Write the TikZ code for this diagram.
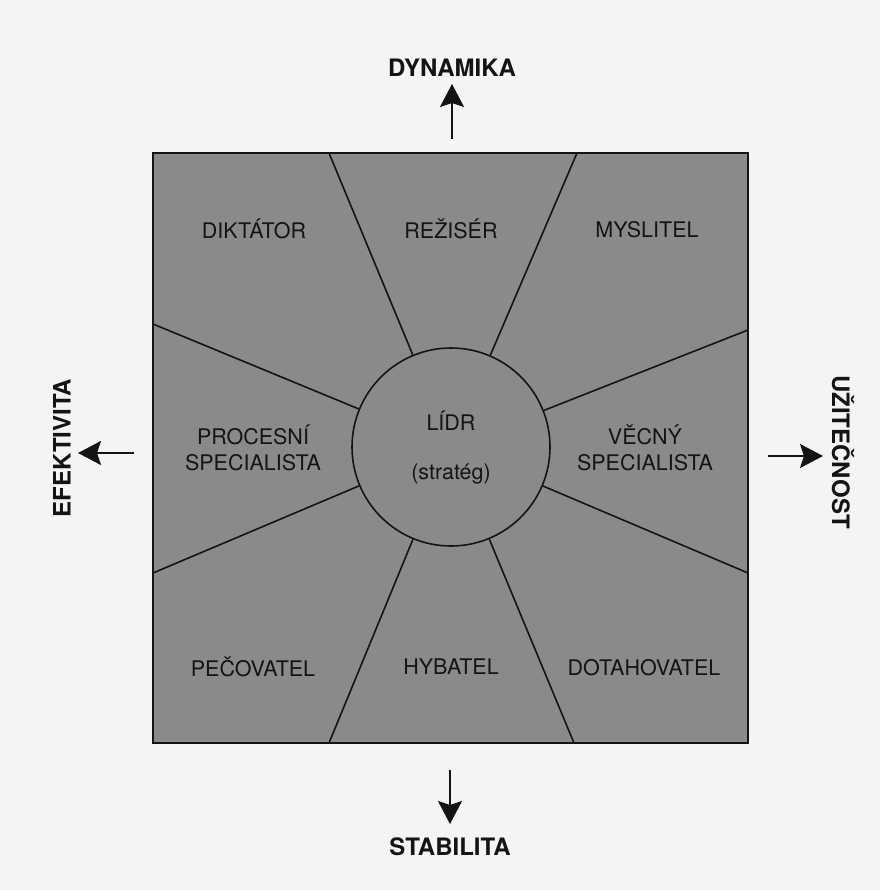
\documentclass[tikz,border=0pt]{standalone}
\usepackage{fontspec}
\setmainfont{TeX Gyre Heros}
\usetikzlibrary{arrows.meta}
\definecolor{paper}{RGB}{244,244,242}
\definecolor{panel}{RGB}{138,138,138}
\definecolor{ink}{RGB}{20,20,20}
\tikzset{
  role/.style={font=\fontsize{21.5}{26}\selectfont, text=ink, align=center, inner sep=0pt},
  axislabel/.style={font=\fontsize{24}{28}\selectfont\bfseries, text=ink, inner sep=0pt},
  divider/.style={draw=ink, line width=1.6pt},
  axisarrow/.style={draw=ink, line width=2.2pt, -{Stealth[length=23pt,width=24pt,inset=4pt]}}
}
\begin{document}
\begin{tikzpicture}[x=1pt,y=-1pt]
\useasboundingbox[fill=paper] (0,0) rectangle (880,890);
% panel
\node[draw=ink, line width=1.8pt, fill=panel, minimum width=595pt, minimum height=590pt, inner sep=0pt] (sq) at (450.5,448) {};
% edge points
\coordinate (t1) at (329,153);
\coordinate (t2) at (577,153);
\coordinate (l1) at (153,324);
\coordinate (l2) at (153,573);
\coordinate (r1) at (748,330);
\coordinate (r2) at (748,573);
\coordinate (b1) at (329,743);
\coordinate (b2) at (574,743);
% centre circle
\node[draw=ink, line width=1.6pt, fill=panel, circle, minimum size=198pt, inner sep=0pt] (lidr) at (451,447) {};
\foreach \p in {t1,t2,l1,l2,r1,r2,b1,b2} \draw[divider] (\p) -- (lidr);
% labels
\node[role] (lidrA) at (451,421) {LÍDR};
\node[role] (lidrB) at (451,474) {(stratég)};
\node[role] (dik) at (254,229) {DIKTÁTOR};
\node[role] (rez) at (451,229) {REŽISÉR};
\node[role] (mys) at (647,230) {MYSLITEL};
\node[role] (pro) at (253,448) {PROCESNÍ\\SPECIALISTA};
\node[role] (vec) at (645,448) {VĚCNÝ\\SPECIALISTA};
\node[role] (pec) at (253,667) {PEČOVATEL};
\node[role] (hyb) at (451,667) {HYBATEL};
\node[role] (dot) at (644,668) {DOTAHOVATEL};
% axes
\node[axislabel] (dyn) at (452,68) {DYNAMIKA};
\node[axislabel] (sta) at (450,847) {STABILITA};
\node[axislabel, rotate=90] (efe) at (62,448) {EFEKTIVITA};
\node[axislabel, rotate=-90] (uzi) at (843,452) {UŽITEČNOST};
\coordinate (dynS) at (452,139);
\coordinate (dynE) at (452,84);
\coordinate (staS) at (450,770);
\coordinate (staE) at (450,824);
\coordinate (efeS) at (134,453);
\coordinate (efeE) at (78,453);
\coordinate (uziS) at (768,456);
\coordinate (uziE) at (823,456);
\draw[axisarrow] (dynS) -- (dynE);
\draw[axisarrow] (staS) -- (staE);
\draw[axisarrow] (efeS) -- (efeE);
\draw[axisarrow] (uziS) -- (uziE);
\end{tikzpicture}
\end{document}
